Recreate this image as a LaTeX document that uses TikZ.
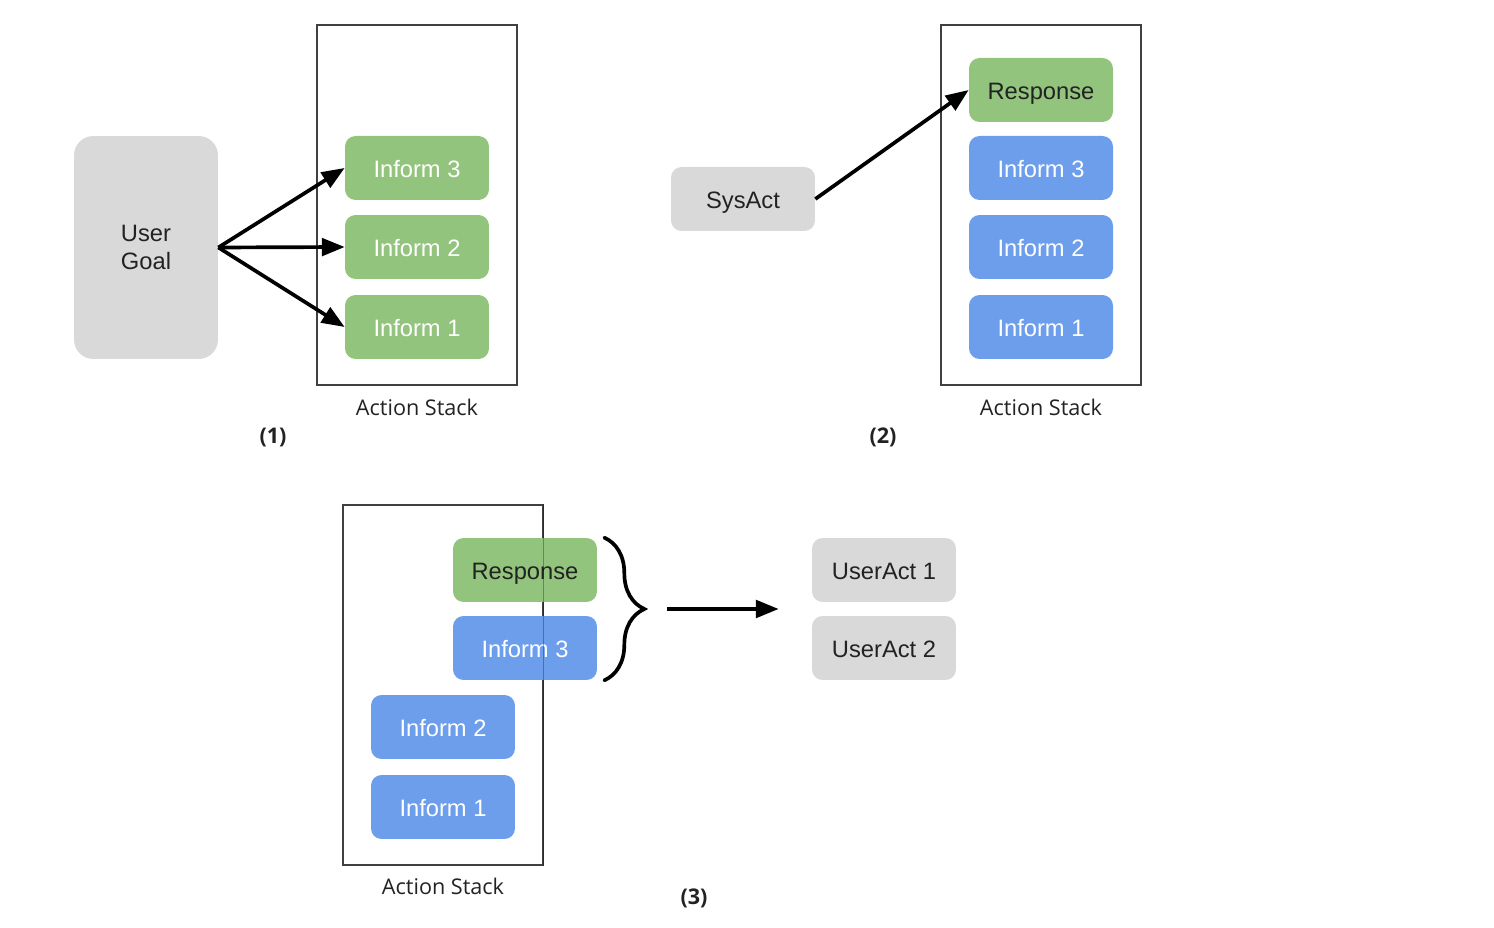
\documentclass[tikz,border=0pt]{standalone}
\usepackage{fontspec}
\setmainfont{Liberation Sans}
\newfontfamily\labfont{Open Sans}
\usetikzlibrary{arrows.meta,decorations.pathreplacing,calc}
\definecolor{gfill}{HTML}{93C47D}
\definecolor{bfill}{HTML}{6D9EEB}
\definecolor{grayfill}{HTML}{D9D9D9}
\definecolor{txtdark}{HTML}{222222}
\begin{document}
\begin{tikzpicture}[x=0.02cm,y=-0.02cm,
 actbox/.style={rounded corners=6pt, minimum width=2.88cm, minimum height=1.28cm, inner sep=0pt, text height=11pt, text depth=0pt, font=\fontsize{13.5}{16}\selectfont},
 greenbox/.style={actbox, fill=gfill, text=white},
 respbox/.style={actbox, fill=gfill, text=txtdark},
 bluebox/.style={actbox, fill=bfill, text=white},
 greybox/.style={actbox, fill=grayfill, text=txtdark},
 stackbox/.style={draw=black!75, line width=0.8pt, minimum width=4cm, minimum height=7.2cm, inner sep=0pt},
 stacklabel/.style={font=\labfont\fontsize{12.3}{14}\selectfont, text=txtdark},
 panellabel/.style={font=\labfont\bfseries\fontsize{12.3}{14}\selectfont, text=txtdark},
 arr/.style={-{Triangle[length=13pt,width=10pt]}, line width=2.1pt},
]
\useasboundingbox (0,0) rectangle (1494,928);

% ---------- Panel 1 ----------
\node[stackbox] (s1) at (417,205) {};
\node[greybox, rounded corners=11pt, minimum width=2.88cm, minimum height=4.46cm, text height=, text depth=, align=center] (ug) at (146,247.5) {User\\Goal};
\node[greenbox] (a3) at (417,168) {Inform 3};
\node[greenbox] (a2) at (417,247) {Inform 2};
\node[greenbox] (a1) at (417,327) {Inform 1};
\node[stacklabel] (l1) at (417,407) {Action Stack};
\node[panellabel] (p1) at (273,437) {(1)};
\draw[arr] (ug.east) -- (a3.west);
\draw[arr] (ug.east) -- (a2.west);
\draw[arr] (ug.east) -- (a1.west);

% ---------- Panel 2 ----------
\node[stackbox] (s2) at (1041,205) {};
\node[respbox] (b4) at (1041,90) {Response};
\node[bluebox] (b3) at (1041,168) {Inform 3};
\node[bluebox] (b2) at (1041,247) {Inform 2};
\node[bluebox] (b1) at (1041,327) {Inform 1};
\node[greybox] (sys) at (743,199) {SysAct};
\node[stacklabel] (l2) at (1041,407) {Action Stack};
\node[panellabel] (p2) at (883,437) {(2)};
\draw[arr] (sys.east) -- (b4.west);

% ---------- Panel 3 ----------
\node[stackbox] (s3) at (443,685) {};
\node[respbox] (c4) at (525,570) {Response};
\node[bluebox] (c3) at (525,648) {Inform 3};
\node[bluebox] (c2) at (443,727) {Inform 2};
\node[bluebox] (c1) at (443,807) {Inform 1};
\draw[black, line width=0.8pt, opacity=0.3] (s3.north east) -- (s3.south east);
\node[stacklabel] (l3) at (443,886) {Action Stack};
\node[panellabel] (p3) at (694,898) {(3)};
\node[greybox] (u1) at (884,570) {UserAct 1};
\node[greybox] (u2) at (884,648) {UserAct 2};
\draw[line width=2.1pt, line cap=round, decorate, decoration={brace, amplitude=0.8cm, aspect=0.5}]
  ($(c4.north east)+(7,0)$) -- ($(c3.south east)+(7,0)$);
\coordinate (bt) at ($(c4.east)!0.5!(c3.east)+(70,0)$);
\coordinate (be) at ($(u1.west)!0.5!(u2.west)+(-33,0)$);
\draw[arr] (bt) -- (be);
\end{tikzpicture}
\end{document}
